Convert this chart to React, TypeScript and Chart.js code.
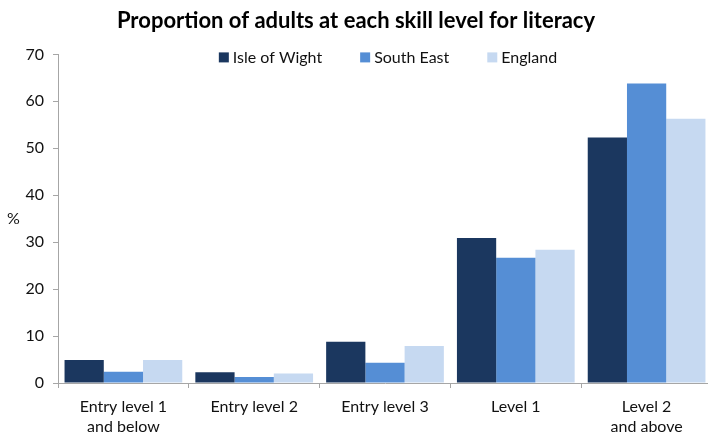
import React, { useEffect, useRef } from "react";
import { Chart, registerables } from "chart.js";

Chart.register(...registerables);

const categories: string[][] = [
  ["Entry level 1", "and below"],
  ["Entry level 2"],
  ["Entry level 3"],
  ["Level 1"],
  ["Level 2", "and above"],
];
const seriesNames = ["Isle of Wight", "South East", "England"];
const isleOfWight = [4.9, 2.3, 8.8, 30.9, 52.3];
const southEast = [2.4, 1.3, 4.3, 26.7, 63.8];
const england = [4.9, 2.0, 7.9, 28.4, 56.3];
const seriesColors = ["#1B375F", "#558ED5", "#C6D9F1"];
const yTicks = [0, 10, 20, 30, 40, 50, 60, 70];

const FONT = "Lato, 'Noto Sans', sans-serif";

const extrasPlugin = {
  id: "extras",
  afterDraw(chart: any) {
    const ctx = chart.ctx;
    const area = chart.chartArea;
    ctx.save();
    ctx.fillStyle = "#111";
    ctx.font = `16px ${FONT}`;
    ctx.textAlign = "left";
    ctx.textBaseline = "middle";
    ctx.fillText("%", 7, (area.top + area.bottom) / 2);
    const box = 10;
    const gapBoxText = 4;
    const itemGap = 38;
    const items = chart.data.datasets.map((d: any) => ({
      label: d.label,
      color: d.backgroundColor,
      w: box + gapBoxText + ctx.measureText(d.label).width,
    }));
    const total = items.reduce((s: number, it: any) => s + it.w, 0) + itemGap * (items.length - 1);
    let x = 388 - total / 2;
    const y = area.top + 3;
    items.forEach((it: any) => {
      ctx.fillStyle = it.color;
      ctx.fillRect(x, y - box / 2, box, box);
      ctx.fillStyle = "#111";
      ctx.fillText(it.label, x + box + gapBoxText, y);
      x += it.w + itemGap;
    });
    ctx.restore();
  },
};

export default function App() {
  const ref = useRef<HTMLCanvasElement | null>(null);
  useEffect(() => {
    document.body.style.margin = "0";
    document.body.style.overflow = "hidden";
    const canvas = ref.current!;
    const chart = new Chart(canvas, {
      type: "bar",
      data: {
        labels: categories,
        datasets: [
          { label: seriesNames[0], data: isleOfWight, backgroundColor: seriesColors[0] },
          { label: seriesNames[1], data: southEast, backgroundColor: seriesColors[1] },
          { label: seriesNames[2], data: england, backgroundColor: seriesColors[2] },
        ],
      },
      options: {
        animation: false,
        responsive: false,
        devicePixelRatio: 1,
        layout: { padding: { left: 0, right: 0, top: 0, bottom: 0 } },
        datasets: { bar: { categoryPercentage: 0.9, barPercentage: 1.0 } },
        plugins: {
          legend: { display: false },
          tooltip: { enabled: false },
          title: {
            display: true,
            text: "Proportion of adults at each skill level for literacy",
            color: "#000",
            font: { family: FONT, size: 22, weight: "bold" },
            padding: { top: 8, bottom: 20 },
          },
        },
        scales: {
          x: {
            afterFit(scale: any) {
              scale.height = 51;
            },
            grid: {
              display: true,
              drawOnChartArea: false,
              offset: true,
              tickLength: 5,
              color: "#A6A6A6",
            },
            border: { color: "#A6A6A6" },
            ticks: {
              color: "#111",
              font: { family: FONT, size: 16, lineHeight: 1.25 },
              padding: 9,
              maxRotation: 0,
              autoSkip: false,
            },
          },
          y: {
            min: 0,
            max: 70,
            afterBuildTicks(scale: any) {
              scale.ticks = yTicks.map((v) => ({ value: v }));
            },
            afterFit(scale: any) {
              scale.width = 58;
            },
            grid: {
              display: true,
              drawOnChartArea: false,
              tickLength: 5,
              color: "#A6A6A6",
            },
            border: { color: "#A6A6A6" },
            ticks: {
              color: "#111",
              font: { family: FONT, size: 16 },
              padding: 9,
            },
          },
        },
      },
      plugins: [extrasPlugin],
    });
    return () => chart.destroy();
  }, []);
  return (
    <div style={{ width: 708, height: 434, overflow: "hidden" }}>
      <canvas ref={ref} width={712} height={434} style={{ display: "block" }} />
    </div>
  );
}
